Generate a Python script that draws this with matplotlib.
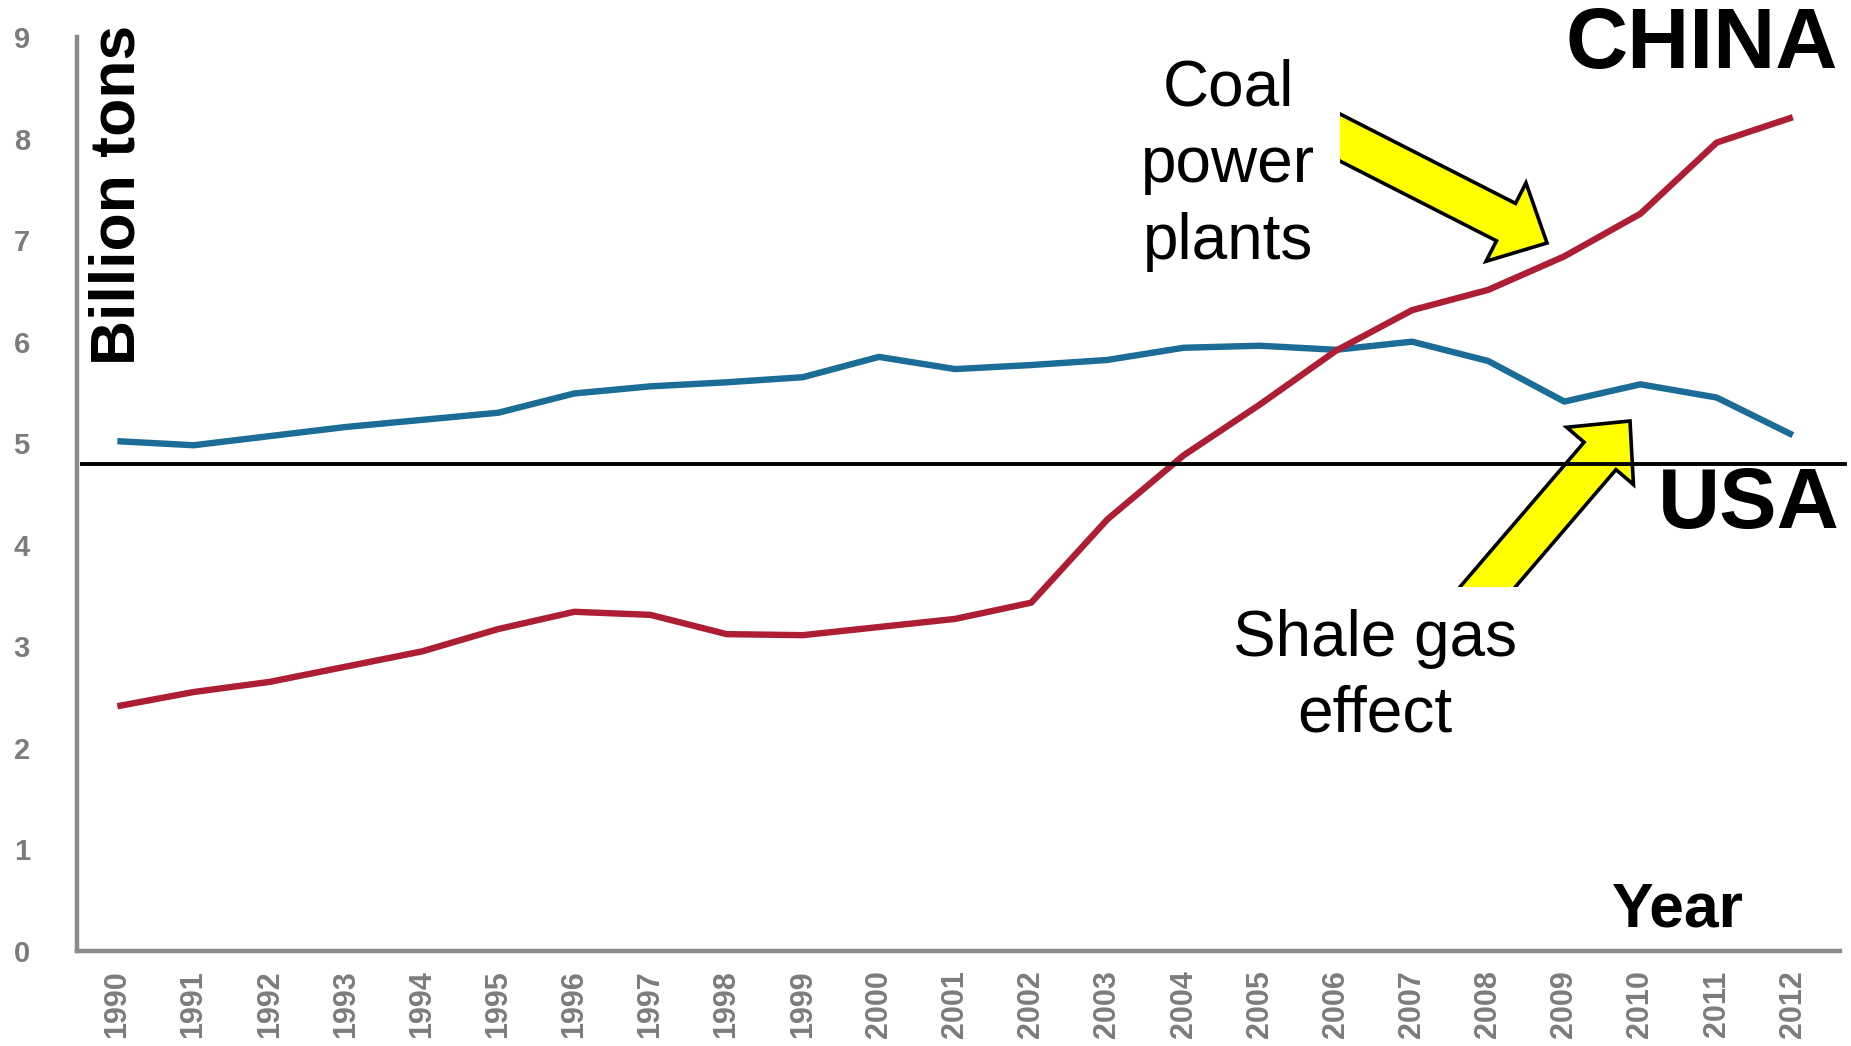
"""CO2 emissions, China vs USA, 1990-2012 (billion tons)."""
import matplotlib
matplotlib.use("Agg")
import matplotlib.pyplot as plt
from matplotlib.patches import FancyArrow, Rectangle

# ---------------------------------------------------------------------------
# Data
# ---------------------------------------------------------------------------

years = list(range(1990, 2013))
usa = [5.02, 4.98, 5.07, 5.16, 5.23, 5.30, 5.49, 5.56, 5.60, 5.65, 5.85, 5.73,
       5.77, 5.82, 5.94, 5.96, 5.92, 6.00, 5.81, 5.41, 5.58, 5.45, 5.08]
china = [2.41, 2.55, 2.65, 2.80, 2.95, 3.17, 3.34, 3.31, 3.12, 3.11, 3.19, 3.27,
         3.43, 4.25, 4.88, 5.38, 5.91, 6.31, 6.51, 6.84, 7.26, 7.96, 8.21]
ref_level = 4.80
y_ticks = list(range(0, 10))

BLUE = "#1b6c97"
RED = "#ad1d33"
GRAY = "#8a8a8a"
TICK_GRAY = "#7c7c7c"
FONT = ["Liberation Sans", "DejaVu Sans"]

plt.rcParams["font.family"] = FONT

W, H = 1851, 1046
fig = plt.figure(figsize=(W / 100, H / 100), dpi=100)

# overlay in pixel coordinates for the callouts (drawn underneath the chart)
ov = fig.add_axes([0, 0, 1, 1])
ov.set_xlim(0, W)
ov.set_ylim(H, 0)
ov.axis("off")
ov.set_zorder(0)

# ---------------------------------------------------------------------------
# Main chart
# ---------------------------------------------------------------------------

ax = fig.add_axes([77 / W, 95 / H, (1840 - 77) / W, 914 / H])
ax.set_zorder(1)
ax.patch.set_alpha(0)

ax.plot(years, usa, color=BLUE, lw=4.6, solid_joinstyle="round", solid_capstyle="butt")
ax.plot(years, china, color=RED, lw=4.6, solid_joinstyle="round", solid_capstyle="butt")
ax.axhline(ref_level, xmin=0.003, xmax=1.003, color="black", lw=2.8, clip_on=False)

ax.set_xlim(1989.47, 2012.62)
ax.set_ylim(0, 9)
ax.set_xticks(years)
ax.set_xticklabels([str(y) for y in years], rotation=90, fontsize=22,
                   color=TICK_GRAY, fontweight="bold")
ax.set_yticks(y_ticks)
ax.set_yticklabels([str(v) for v in y_ticks], fontsize=21, color=TICK_GRAY,
                   fontweight="bold")
ax.tick_params(axis="x", length=0, pad=14)
ax.tick_params(axis="y", length=0, pad=34)

for side in ("top", "right"):
    ax.spines[side].set_visible(False)
for side in ("left", "bottom"):
    ax.spines[side].set_color(GRAY)
    ax.spines[side].set_linewidth(3.2)

# ---------------------------------------------------------------------------
# Labels and callouts
# ---------------------------------------------------------------------------

ov.text(118, 195, "Billion tons", rotation=90, fontsize=45, fontweight="bold",
        ha="center", va="center")
ov.text(1702, 46, "CHINA", fontsize=62, fontweight="bold", ha="center", va="center")
ov.text(1749, 506, "USA", fontsize=62, fontweight="bold", ha="center", va="center")
ov.text(1678, 910, "Year", fontsize=45, fontweight="bold", ha="center", va="center")
ov.text(1228, 58, "Coal\npower\nplants", fontsize=46, ha="center", va="top",
        linespacing=1.36)
ov.text(1375, 609, "Shale gas\neffect", fontsize=46, ha="center", va="top",
        linespacing=1.32)


def callout_arrow(tip, direction, clip_xy, clip_wh):
    """Yellow block arrow ending at `tip`, tail cut off by a clip box."""
    length = 280
    dx, dy = direction[0] * length, direction[1] * length
    arr = FancyArrow(tip[0] - dx, tip[1] - dy, dx, dy, width=42, head_width=88,
                     head_length=46, length_includes_head=True,
                     facecolor="#ffff00", edgecolor="black", lw=2.6)
    ov.add_patch(arr)
    clip = Rectangle(clip_xy, clip_wh[0], clip_wh[1], transform=ov.transData)
    arr.set_clip_path(clip)


# coal arrow points down-right, tail cut on a vertical edge
callout_arrow((1547, 243), (0.891, 0.454), (1340, 0), (600, 600))
# shale gas arrow points up-right, tail cut on a horizontal edge
callout_arrow((1630, 421), (0.651, -0.759), (1300, 300), (500, 287))

fig.savefig("out.png", dpi=100)
